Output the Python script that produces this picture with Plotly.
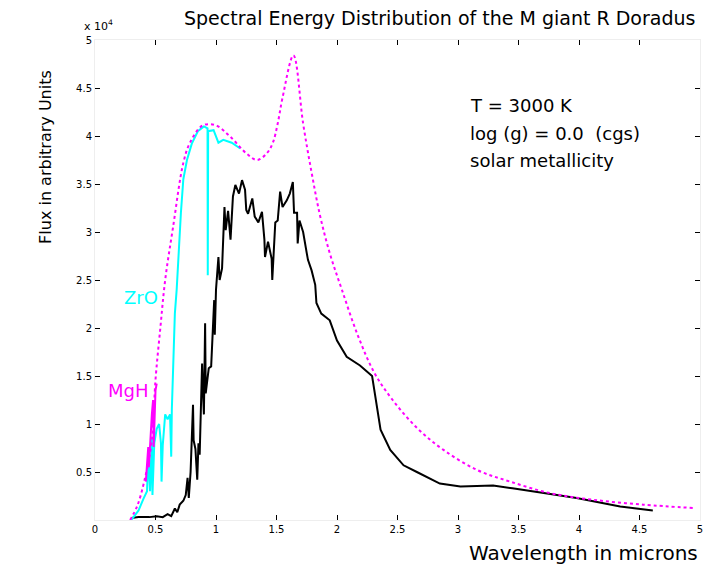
import plotly.graph_objects as go

# wavelength (microns) and flux (units of 1e4, arbitrary)

# continuum envelope, magenta dotted
cont_wl = [0.29, 0.35, 0.41, 0.47, 0.50, 0.54, 0.58, 0.645, 0.73, 0.785, 0.89, 1.0,
           1.12, 1.25, 1.34, 1.42, 1.47, 1.51, 1.55, 1.64, 1.72, 1.79, 1.86,
           1.94, 2.04, 2.17, 2.31, 2.46, 2.66, 2.88, 3.16, 3.43, 3.76, 4.12, 4.53, 4.94]
cont_flux = [0.0, 0.15, 0.42, 0.83, 1.46, 2.0, 2.5, 3.05, 3.72, 3.93, 4.11, 4.11,
             3.99, 3.82, 3.75, 3.82, 3.93, 4.13, 4.4, 4.84, 4.13, 3.62, 3.17,
             2.78, 2.40, 1.93, 1.53, 1.25, 0.96, 0.73, 0.52, 0.40, 0.28, 0.21, 0.16, 0.125]

# observed spectrum, black
obs_wl = [0.30, 0.36, 0.45, 0.51, 0.56, 0.60, 0.63, 0.66, 0.68, 0.70, 0.73, 0.75,
          0.765, 0.775, 0.79, 0.80, 0.81, 0.815, 0.83, 0.845, 0.855, 0.865, 0.88, 0.885,
          0.895, 0.90, 0.91, 0.915, 0.94, 0.96, 0.985, 0.99, 1.0, 1.02, 1.03, 1.05,
          1.07, 1.08, 1.10, 1.12, 1.14, 1.16, 1.19, 1.215, 1.24, 1.25, 1.265, 1.30,
          1.32, 1.35, 1.38, 1.40, 1.405, 1.43, 1.46, 1.465, 1.49, 1.51, 1.53, 1.55,
          1.585, 1.61, 1.635, 1.645, 1.67, 1.675, 1.69, 1.72, 1.75, 1.76, 1.79, 1.82,
          1.83, 1.87, 1.94, 2.0, 2.08, 2.19, 2.29, 2.33, 2.36, 2.44, 2.55, 2.66,
          2.85, 3.02, 3.29, 3.45, 3.70, 3.98, 4.34, 4.61]
obs_flux = [0.02, 0.03, 0.03, 0.04, 0.03, 0.06, 0.04, 0.12, 0.08, 0.16, 0.20, 0.26,
            0.44, 0.23, 0.50, 0.78, 1.20, 0.83, 0.74, 0.42, 0.80, 0.68, 1.35, 1.63,
            1.25, 1.10, 2.05, 1.32, 1.58, 1.60, 2.29, 1.93, 2.40, 2.74, 2.50, 2.62,
            3.26, 3.02, 3.22, 2.92, 3.37, 3.49, 3.40, 3.54, 3.44, 3.23, 3.19, 3.35,
            3.16, 3.10, 3.21, 2.92, 2.74, 2.90, 2.72, 2.50, 3.10, 3.12, 3.42, 3.26,
            3.33, 3.40, 3.52, 3.20, 3.20, 2.88, 3.12, 3.00, 2.78, 2.71, 2.60, 2.45,
            2.26, 2.15, 2.08, 1.87, 1.70, 1.61, 1.50, 1.15, 0.94, 0.73, 0.57, 0.50,
            0.38, 0.35, 0.36, 0.33, 0.28, 0.23, 0.14, 0.10]

# model with ZrO bands, cyan
zro_wl = [0.30, 0.36, 0.40, 0.43, 0.44, 0.455, 0.47, 0.475, 0.49, 0.51, 0.53, 0.545,
          0.55, 0.56, 0.58, 0.60, 0.62, 0.63, 0.635, 0.645, 0.66, 0.675, 0.69, 0.71,
          0.73, 0.76, 0.80, 0.85, 0.90, 0.93, 0.932, 0.935, 0.98, 1.02, 1.06, 1.13, 1.2]
zro_flux = [0.0, 0.10, 0.22, 0.30, 0.68, 0.30, 0.86, 0.26, 0.80, 0.95, 1.00, 0.80,
            0.40, 0.78, 1.10, 1.05, 1.10, 0.66, 1.15, 1.60, 2.15, 2.40, 2.80, 3.20,
            3.55, 3.75, 3.92, 4.05, 4.10, 4.08, 2.55, 4.05, 4.06, 3.93, 3.96, 3.93, 3.87]

# MgH band piece, magenta
mgh_wl = [0.42, 0.44, 0.445, 0.46, 0.47, 0.48, 0.485, 0.50, 0.51]
mgh_flux = [0.40, 0.76, 0.55, 0.95, 1.10, 1.25, 0.76, 1.35, 1.42]

x_ticks = [0, 0.5, 1, 1.5, 2, 2.5, 3, 3.5, 4, 4.5, 5]
y_ticks = [0.5, 1, 1.5, 2, 2.5, 3, 3.5, 4, 4.5, 5]

fig = go.Figure()
fig.add_trace(go.Scatter(x=obs_wl, y=obs_flux, mode="lines",
                         line=dict(color="black", width=2)))
fig.add_trace(go.Scatter(x=zro_wl, y=zro_flux, mode="lines",
                         line=dict(color="#00ffff", width=2)))
fig.add_trace(go.Scatter(x=mgh_wl, y=mgh_flux, mode="lines",
                         line=dict(color="#ff00ff", width=2)))
fig.add_trace(go.Scatter(x=cont_wl, y=cont_flux, mode="lines",
                         line=dict(color="#ff00ff", width=2, dash="dot"),
                         line_shape="spline"))

font = "DejaVu Sans, Liberation Sans, Arial, sans-serif"
fig.update_layout(
    # page body has an 8px margin, so the figure is 8px smaller than the window
    width=719, height=571,
    margin=dict(l=87, r=27, t=32, b=59),
    plot_bgcolor="white", paper_bgcolor="white",
    showlegend=False,
    font=dict(family=font, color="black", size=10),
    xaxis=dict(range=[0, 5], tickvals=x_ticks, ticks="inside", ticklen=5,
               tickcolor="black", showgrid=False, zeroline=False,
               showline=True, linecolor="#eeeeee", mirror="ticks"),
    yaxis=dict(range=[0, 5], tickvals=y_ticks, ticks="inside", ticklen=5,
               tickcolor="black", showgrid=False, zeroline=False,
               showline=True, linecolor="#eeeeee", mirror="ticks"),
    annotations=[
        dict(text="Spectral Energy Distribution of the M giant R Doradus",
             xref="paper", yref="paper", x=0.995, y=1.046, xanchor="right",
             yanchor="middle", showarrow=False, font=dict(size=19)),
        dict(text="Wavelength in microns", xref="paper", yref="paper",
             x=1.0, y=-0.069, xanchor="right", yanchor="middle",
             showarrow=False, font=dict(size=20)),
        dict(text="Flux in arbitrary Units", xref="paper", yref="paper",
             x=-0.083, y=0.756, textangle=-90, xanchor="center",
             yanchor="middle", showarrow=False, font=dict(size=16)),
        dict(text="x 10<sup>4</sup>", xref="paper", yref="paper",
             x=0.005, y=1.03, xanchor="center", yanchor="middle",
             showarrow=False, font=dict(size=11)),
        dict(text="T = 3000 K", x=3.08, y=4.32, xanchor="left",
             yanchor="middle", showarrow=False, font=dict(size=18)),
        dict(text="log (g) = 0.0  (cgs)", x=3.08, y=4.03, xanchor="left",
             yanchor="middle", showarrow=False, font=dict(size=18)),
        dict(text="solar metallicity", x=3.08, y=3.75, xanchor="left",
             yanchor="middle", showarrow=False, font=dict(size=18)),
        dict(text="ZrO", x=0.54, y=2.32, xanchor="right", yanchor="middle",
             showarrow=False, font=dict(size=18, color="#00ffff")),
        dict(text="MgH", x=0.46, y=1.35, xanchor="right", yanchor="middle",
             showarrow=False, font=dict(size=18, color="#ff00ff")),
    ],
)

fig.write_html("out.html")
